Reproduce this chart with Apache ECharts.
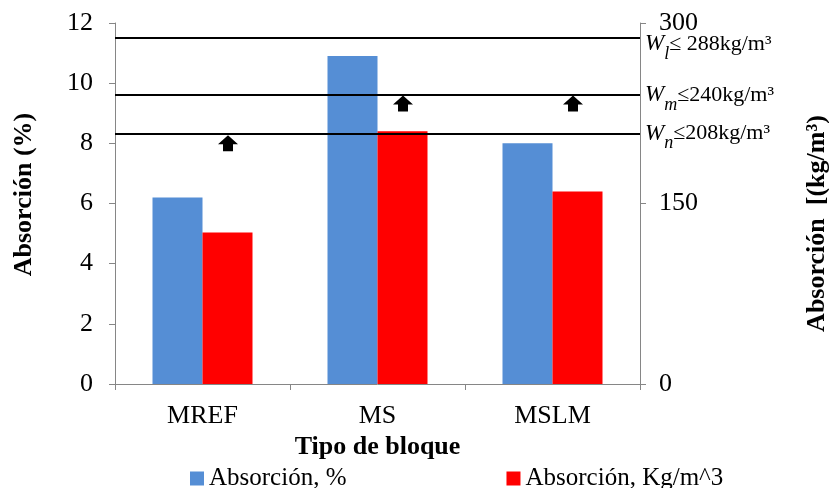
<!DOCTYPE html>
<html>
<head>
<meta charset="utf-8">
<script src="https://cdn.jsdelivr.net/npm/echarts@6/dist/echarts.min.js"></script>
<style>
  html, body { margin: 0; padding: 0; background: #fff; }
  #chart { width: 829px; height: 488px; }
</style>
</head>
<body>
<div id="chart"></div>
<script>
// Block types and measured absorption
const categories = ['MREF', 'MS', 'MSLM'];
const absorptionPct = [6.2, 10.9, 8.0];          // %
const absorptionKg = [126, 210, 160];            // kg/m^3
// Upper limits for absorption by grade (kg/m^3)
const limitValues = [288, 240, 208];
const limitSubs = ['l', 'm', 'n'];
// Arrow markers above the kg/m^3 bars (kg/m^3 level)
const arrowValues = [200, 233, 233];

const FONT = '"Liberation Serif", "Times New Roman", serif';
const AXIS_GRAY = '#868686';

const arrowPath = 'path://M10,0 L20,9 L15,9 L15,16 L5,16 L5,9 L0,9 Z';
const arrowShift = [23.5, 23.5, 18.5];

const chart = echarts.init(document.getElementById('chart'), null, { renderer: 'canvas' });

const limitLabelRich = {
  w: { fontFamily: FONT, fontStyle: 'italic', fontSize: 23, color: '#000', lineHeight: 26 },
  s: { fontFamily: FONT, fontStyle: 'italic', fontSize: 18, color: '#000', verticalAlign: 'bottom', lineHeight: 26, padding: [0, 0, -6, 0] },
  t: { fontFamily: FONT, fontSize: 22, color: '#000', lineHeight: 26 }
};

chart.setOption({
  animation: false,
  textStyle: { fontFamily: FONT },
  grid: { left: 115, right: 189, top: 23, bottom: 104, containLabel: false, outerBoundsMode: 'none' },
  legend: {
    top: 461,
    left: 185,
    itemWidth: 14,
    itemHeight: 14,
    itemGap: 160,
    icon: 'rect',
    textStyle: { fontFamily: FONT, fontSize: 25, color: '#000' },
    data: ['Absorción, %', 'Absorción, Kg/m^3']
  },
  xAxis: {
    type: 'category',
    data: categories,
    name: 'Tipo de bloque',
    nameLocation: 'middle',
    nameGap: 41,
    nameTextStyle: { fontFamily: FONT, fontWeight: 'bold', fontSize: 26, color: '#000' },
    axisLine: { lineStyle: { color: AXIS_GRAY, width: 1 } },
    axisTick: { show: true, length: 6, lineStyle: { color: AXIS_GRAY } },
    axisLabel: { fontFamily: FONT, fontSize: 26, color: '#000', margin: 19 }
  },
  yAxis: [
    {
      type: 'value',
      min: 0, max: 12, interval: 2,
      name: 'Absorción (%)',
      nameLocation: 'middle',
      nameGap: 78,
      nameTextStyle: { fontFamily: FONT, fontWeight: 'bold', fontSize: 26, color: '#000', padding: [0, 0, 0, 18] },
      axisLine: { show: true, lineStyle: { color: AXIS_GRAY } },
      axisTick: { show: true, length: 6, lineStyle: { color: AXIS_GRAY } },
      axisLabel: { fontFamily: FONT, fontSize: 26, color: '#000', margin: 22 },
      splitLine: { show: false }
    },
    {
      type: 'value',
      min: 0, max: 300, interval: 150,
      position: 'right',
      name: 'Absorción  [(kg/m³)',
      nameLocation: 'middle',
      nameGap: 164,
      nameTextStyle: { fontFamily: FONT, fontWeight: 'bold', fontSize: 26, color: '#000', padding: [0, 40, 0, 0] },
      axisLine: { show: true, lineStyle: { color: AXIS_GRAY } },
      axisTick: { show: true, length: 6, lineStyle: { color: AXIS_GRAY } },
      axisLabel: { fontFamily: FONT, fontSize: 26, color: '#000', margin: 19 },
      splitLine: { show: false }
    }
  ],
  series: [
    {
      name: 'Absorción, %',
      type: 'bar',
      yAxisIndex: 0,
      data: absorptionPct,
      barWidth: 50,
      barGap: '0%',
      itemStyle: { color: '#558ED5' }
    },
    {
      name: 'Absorción, Kg/m^3',
      type: 'bar',
      yAxisIndex: 1,
      data: absorptionKg,
      barWidth: 50,
      itemStyle: { color: '#FF0000' },
      markLine: {
        silent: true,
        symbol: 'none',
        lineStyle: { color: '#000', width: 2, type: 'solid' },
        label: {
          show: true,
          position: 'end',
          distance: 5,
          rich: limitLabelRich
        },
        data: limitValues.map((v, i) => ({
          yAxis: v,
          label: {
            formatter: '{w|W}{s|' + limitSubs[i] + '}{t|' + (i === 0 ? '≤ ' : '≤') + v + 'kg/m³}',
            offset: i === 0 ? [0, 7] : [0, 0]
          }
        }))
      }
    },
    {
      name: 'límite',
      type: 'scatter',
      yAxisIndex: 1,
      symbol: arrowPath,
      symbolSize: [20, 16],
      itemStyle: { color: '#000', opacity: 1 },
      data: arrowValues.map((v, i) => ({ value: [i, v], symbolOffset: [arrowShift[i] + 2, 0] })),
      silent: true,
      z: 5
    }
  ]
});
</script>
</body>
</html>
